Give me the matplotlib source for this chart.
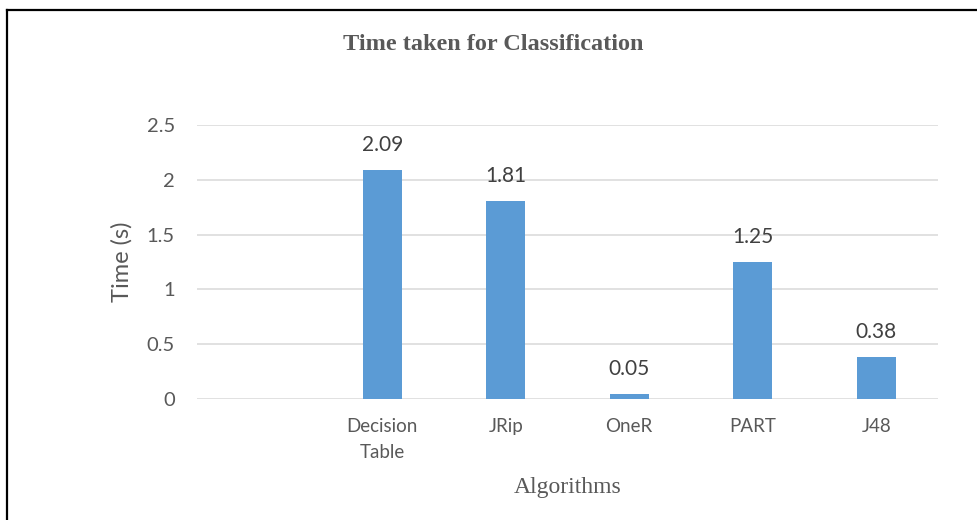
import matplotlib
matplotlib.use("Agg")
import matplotlib.pyplot as plt
from matplotlib.lines import Line2D

# datos
algoritmos = ["Decision\nTable", "JRip", "OneR", "PART", "J48"]
tiempos = [2.09, 1.81, 0.05, 1.25, 0.38]
yticks = [0, 0.5, 1, 1.5, 2, 2.5]
ytick_labels = ["0", "0.5", "1", "1.5", "2", "2.5"]

AZUL = "#5B9BD5"
GRIS_TXT = "#595959"
GRIS_GRID = "#D9D9D9"
SANS = ["Lato", "DejaVu Sans"]
SERIF = ["Liberation Serif", "DejaVu Serif"]

fig = plt.figure(figsize=(9.78, 5.2), dpi=100)
ax = fig.add_axes([197 / 978, 1 - 399 / 520, (938 - 197) / 978, (399 - 125) / 520])

x = list(range(len(algoritmos)))
bars = ax.bar(x, tiempos, width=0.315, color=AZUL, zorder=3)

# etiquetas de datos sobre cada barra
for b, v in zip(bars, tiempos):
    ax.annotate(f"{v:.2f}", (b.get_x() + b.get_width() / 2, v),
                xytext=(0, 18), textcoords="offset points",
                ha="center", va="center", fontsize=15, color="#404040",
                family=SANS)

# hay una categoría vacía a la izquierda en el original
ax.set_xlim(-1.5, len(algoritmos) - 0.5)
ax.set_ylim(0, 2.5)
ax.set_yticks(yticks)
ax.set_yticklabels(ytick_labels, family=SANS, fontsize=14.5, color=GRIS_TXT)
ax.set_xticks(x)
ax.set_xticklabels(algoritmos, family=SANS, fontsize=13.5, color=GRIS_TXT,
                   linespacing=1.6, va="top")
ax.tick_params(axis="both", length=0)
ax.tick_params(axis="y", pad=16)
ax.tick_params(axis="x", pad=14)

ax.grid(axis="y", color=GRIS_GRID, lw=1.1, zorder=0)
for s in ax.spines.values():
    s.set_visible(False)

ax.set_ylabel("Time (s)", family=SANS, fontsize=17, color=GRIS_TXT)
ax.yaxis.set_label_coords((133 - 197) / 741, 0.5)

fig.text(0.5045, 1 - 45 / 520, "Time taken for Classification", ha="center",
         va="center", family=SERIF, fontsize=17.5, fontweight="bold", color=GRIS_TXT)
fig.text(568 / 978, 1 - 488 / 520, "Algorithms", ha="center", va="center",
         family=SERIF, fontsize=17, color=GRIS_TXT)

# marco negro (arriba e izquierda)
fig.add_artist(Line2D([7 / 978, 1], [1 - 10 / 520, 1 - 10 / 520],
                      transform=fig.transFigure, color="black", lw=1.6))
fig.add_artist(Line2D([7 / 978, 7 / 978], [0, 1 - 10 / 520],
                      transform=fig.transFigure, color="black", lw=1.6))

fig.savefig("out.png", dpi=100, facecolor="white")
